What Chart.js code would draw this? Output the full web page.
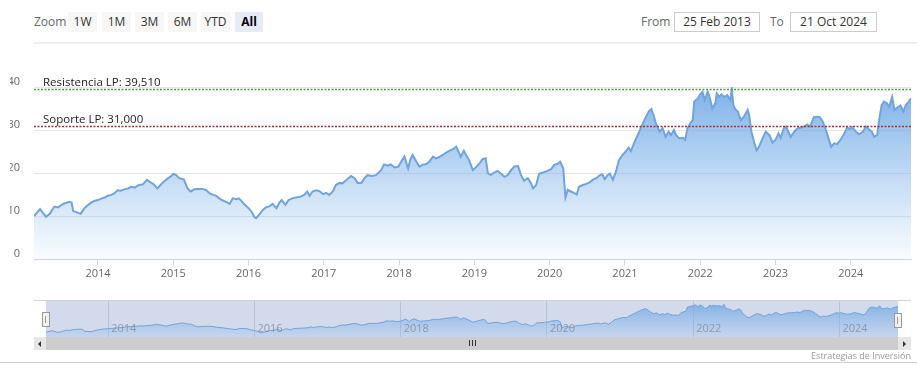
<!DOCTYPE html>
<html><head><meta charset="utf-8">
<script src="https://cdn.jsdelivr.net/npm/chart.js@4"></script>
<style>
html,body{margin:0;padding:0;background:#fff;width:917px;height:383px;overflow:hidden;font-family:"Open Sans",sans-serif;}
.a{position:absolute;}
.btn{position:absolute;top:12px;height:20px;background:#f7f7f7;color:#333;font-size:12px;line-height:20px;text-align:center;}
.lbl{position:absolute;top:12px;height:20px;line-height:20px;font-size:12px;color:#666;}
.inp{position:absolute;top:12px;height:18px;line-height:18px;border:1px solid #ccc;font-size:12px;color:#333;text-align:center;background:#fff;}
.handle{position:absolute;width:6px;height:13px;background:#f2f2f2;border:1px solid #999;}
.handle i{position:absolute;top:3px;width:1px;height:7px;background:#999;}
</style></head>
<body>
<div class="lbl" style="left:34px;">Zoom</div>
<div class="btn" style="left:68px;width:29px;">1W</div>
<div class="btn" style="left:102px;width:29px;">1M</div>
<div class="btn" style="left:135px;width:29px;">3M</div>
<div class="btn" style="left:168px;width:29px;">6M</div>
<div class="btn" style="left:201px;width:29px;">YTD</div>
<div class="btn" style="left:235px;width:28px;background:#e6ebf5;color:#000;font-weight:bold;">All</div>
<div class="lbl" style="left:641px;">From</div>
<div class="inp" style="left:674px;width:84px;">25 Feb 2013</div>
<div class="lbl" style="left:770px;">To</div>
<div class="inp" style="left:790px;width:85px;">21 Oct 2024</div>
<div class="a" style="left:33px;top:42px;width:884px;height:2px;background:#efefef;"></div>

<canvas id="main" class="a" style="left:0;top:50px;" width="917" height="240"></canvas>

<div class="a" style="left:34px;top:300px;width:877px;height:1px;background:#cfd3da;"></div>
<canvas id="nav" class="a" style="left:46px;top:301px;" width="852" height="36"></canvas>
<div class="handle" style="left:42px;top:312px;"><i style="left:2px"></i><i style="left:3px;background:#f2f2f2"></i></div>
<div class="handle" style="left:894px;top:313px;"><i style="left:2px"></i><i style="left:3px;background:#f2f2f2"></i></div>

<div class="a" style="left:34px;top:337px;width:877px;height:13px;background:#f2f2f2;"></div>
<div class="a" style="left:46px;top:337px;width:852px;height:13px;background:#cdcdcd;"></div>
<div class="a" style="left:34px;top:337px;width:12px;height:13px;background:#e6e6e6;"></div>
<div class="a" style="left:898px;top:337px;width:13px;height:13px;background:#e6e6e6;"></div>
<div class="a" style="left:38px;top:341px;width:0;height:0;border-top:3px solid transparent;border-bottom:3px solid transparent;border-right:3px solid #333;"></div>
<div class="a" style="left:903px;top:341px;width:0;height:0;border-top:3px solid transparent;border-bottom:3px solid transparent;border-left:3px solid #333;"></div>
<div class="a" style="left:469px;top:340px;width:1px;height:6px;background:#333;"></div>
<div class="a" style="left:472px;top:340px;width:1px;height:6px;background:#333;"></div>
<div class="a" style="left:475px;top:340px;width:1px;height:6px;background:#333;"></div>

<div class="a" style="left:0;top:362px;width:917px;height:1px;background:#cfcfcf;"></div>
<div class="a" style="right:6px;top:350px;font-size:9px;line-height:12px;color:#999;">Estrategias de Inversión</div>

<script>
// Decimal-year dates
const dates = [
2013.15,2013.23,2013.31,2013.36,2013.42,2013.47,2013.51,2013.55,2013.62,2013.65,
2013.67,2013.71,2013.77,2013.82,2013.87,2013.91,2013.95,2014.00,2014.05,2014.09,
2014.13,2014.18,2014.22,2014.26,2014.30,2014.35,2014.40,2014.44,2014.49,2014.53,
2014.60,2014.65,2014.70,2014.74,2014.79,2014.83,2014.88,2014.93,2014.96,2015.00,
2015.04,2015.08,2015.14,2015.19,2015.23,2015.28,2015.33,2015.39,2015.44,2015.48,
2015.53,2015.57,2015.61,2015.66,2015.70,2015.75,2015.79,2015.84,2015.87,2015.90,
2015.95,2015.99,2016.04,2016.08,2016.10,2016.15,2016.19,2016.23,2016.28,2016.32,
2016.37,2016.41,2016.44,2016.49,2016.53,2016.58,2016.63,2016.69,2016.74,2016.78,
2016.81,2016.85,2016.90,2016.94,2016.99,2017.03,2017.07,2017.12,2017.16,2017.21,
2017.25,2017.30,2017.36,2017.41,2017.45,2017.50,2017.54,2017.58,2017.64,2017.69,
2017.76,2017.80,2017.85,2017.89,2017.94,2017.99,2018.04,2018.07,2018.12,2018.15,
2018.18,2018.23,2018.27,2018.31,2018.36,2018.40,2018.45,2018.49,2018.53,2018.58,
2018.62,2018.67,2018.71,2018.76,2018.79,2018.82,2018.86,2018.89,2018.93,2018.98,
2019.02,2019.07,2019.11,2019.15,2019.18,2019.22,2019.26,2019.31,2019.35,2019.40,
2019.44,2019.49,2019.53,2019.58,2019.62,2019.66,2019.71,2019.75,2019.78,2019.82,
2019.86,2019.91,2019.97,2020.02,2020.06,2020.10,2020.14,2020.18,2020.21,2020.24,
2020.28,2020.33,2020.36,2020.39,2020.44,2020.48,2020.53,2020.57,2020.62,2020.66,
2020.70,2020.73,2020.77,2020.80,2020.84,2020.88,2020.92,2020.97,2021.01,2021.05,
2021.08,2021.12,2021.15,2021.19,2021.24,2021.28,2021.32,2021.35,2021.38,2021.41,
2021.46,2021.50,2021.54,2021.58,2021.61,2021.65,2021.68,2021.72,2021.77,2021.80,
2021.83,2021.87,2021.90,2021.92,2021.97,2022.00,2022.03,2022.06,2022.10,2022.13,
2022.16,2022.20,2022.22,2022.25,2022.28,2022.32,2022.36,2022.40,2022.42,2022.44,
2022.47,2022.50,2022.54,2022.58,2022.63,2022.65,2022.68,2022.72,2022.75,2022.78,
2022.83,2022.87,2022.92,2022.96,2023.00,2023.04,2023.07,2023.11,2023.14,2023.17,
2023.20,2023.25,2023.29,2023.34,2023.38,2023.42,2023.46,2023.51,2023.55,2023.59,
2023.63,2023.67,2023.71,2023.74,2023.78,2023.82,2023.87,2023.91,2023.95,2023.99,
2024.02,2024.07,2024.11,2024.16,2024.20,2024.24,2024.28,2024.31,2024.35,2024.38,
2024.41,2024.44,2024.48,2024.51,2024.55,2024.58,2024.62,2024.66,2024.70,2024.73,
2024.77,2024.80];
const prices = [
10.0,11.6,9.8,10.5,12.2,12.0,12.5,12.9,13.3,13.1,
11.2,10.9,10.5,11.8,12.6,13.1,13.5,13.7,14.1,14.3,
14.7,14.9,15.3,16.0,15.9,16.2,16.4,16.8,16.6,17.1,
17.4,18.4,17.8,17.4,16.4,17.2,18.1,18.8,19.1,19.8,
19.5,18.8,18.5,16.4,15.7,16.2,16.3,16.3,16.0,15.3,
14.9,14.7,14.1,13.6,13.3,12.8,14.1,13.9,14.1,13.6,
12.6,12.0,11.0,9.7,9.5,10.5,11.4,12.0,12.3,12.8,
11.8,13.1,13.7,12.6,13.7,14.1,14.3,14.5,14.9,15.7,
14.7,15.7,16.0,15.8,15.1,15.4,14.9,15.7,17.2,17.7,
17.6,18.4,19.3,18.8,17.7,17.7,18.8,19.5,19.3,19.5,
20.6,22.0,21.7,22.0,21.3,21.5,23.0,23.8,21.1,23.2,
24.2,22.6,21.5,21.9,22.1,22.6,23.8,23.4,23.7,24.2,
24.7,25.2,25.5,26.1,24.9,23.8,25.2,24.2,23.0,20.7,
21.3,22.3,23.2,23.4,19.9,19.5,20.1,20.5,19.9,19.1,
19.5,20.7,21.5,21.6,19.5,18.2,18.8,17.7,16.4,17.2,
19.8,20.1,20.5,20.9,21.9,22.1,22.6,21.1,14.3,16.1,
15.7,15.3,15.0,16.8,17.2,17.4,17.8,18.4,18.8,19.4,
19.7,18.6,19.5,19.9,18.4,20.3,23.0,24.2,25.0,25.9,
25.1,26.9,28.1,29.6,31.6,33.1,34.4,34.9,33.5,31.6,
29.6,30.4,28.4,29.6,28.8,30.0,28.8,28.1,28.2,27.7,
30.4,31.6,32.3,36.6,37.4,38.3,38.9,37.0,38.9,37.4,
35.0,36.2,38.5,37.7,38.3,37.7,38.1,37.0,39.5,35.8,
34.7,34.3,32.3,33.1,34.7,33.5,29.6,26.9,25.3,26.1,
28.1,29.6,28.8,27.1,27.7,29.2,28.2,30.4,30.8,29.6,
28.4,29.6,30.4,30.6,30.8,31.3,30.8,33.0,33.1,33.0,
31.9,30.0,27.7,26.1,26.9,26.7,27.9,29.0,30.6,30.2,
30.6,29.6,29.0,29.6,30.8,30.2,29.6,28.4,28.8,32.7,
35.8,36.6,36.2,35.4,37.7,34.7,35.2,35.7,34.3,35.8,
36.6,37.4];
const yearTicks = [2014,2015,2016,2017,2018,2019,2020,2021,2022,2023,2024];
const navYearTicks = [2014,2016,2018,2020,2022,2024];
const yTicks = [0,10,20,30,40];
const levelValues = [39.51, 31.0];
const levelLabels = ['Resistencia LP: 39,510', 'Soporte LP: 31,000'];
const levelColors = ['#4b9a48', '#8e3b3b'];

const FONT = '"Open Sans", sans-serif';
const points = dates.map((d, i) => ({x: d, y: prices[i]}));

function areaGradient(c, top, bottom) {
  const a = c.chart.chartArea;
  if (!a) return 'rgba(124,181,236,0.5)';
  const g = c.chart.ctx.createLinearGradient(0, a.top, 0, a.bottom);
  g.addColorStop(0, top);
  g.addColorStop(1, bottom);
  return g;
}

const levelPlugin = {
  id: 'levels',
  afterDatasetsDraw(chart) {
    const {ctx, chartArea: a, scales: {y}} = chart;
    levelValues.forEach((v, i) => {
      const py = Math.round(y.getPixelForValue(v)) + 0.5;
      ctx.save();
      ctx.strokeStyle = levelColors[i];
      ctx.lineWidth = 1.5;
      ctx.setLineDash([2, 1.5]);
      ctx.beginPath();
      ctx.moveTo(a.left, py);
      ctx.lineTo(a.right, py);
      ctx.stroke();
      ctx.setLineDash([]);
      ctx.fillStyle = '#222';
      ctx.font = '11.5px ' + FONT;
      ctx.textBaseline = 'alphabetic';
      ctx.fillText(levelLabels[i], a.left + 9, py - 3.5);
      ctx.restore();
    });
  }
};

new Chart(document.getElementById('main'), {
  type: 'line',
  data: {datasets: [{
    data: points,
    borderColor: '#72a3d9',
    borderWidth: 2,
    pointRadius: 0,
    tension: 0,
    fill: 'origin',
    backgroundColor: c => areaGradient(c, 'rgba(112,168,230,0.9)', 'rgba(124,181,236,0.04)')
  }]},
  options: {
    responsive: false, animation: false,
    layout: {padding: {left: 10, right: 6, top: 37, bottom: 0}},
    plugins: {legend: {display: false}, tooltip: {enabled: false}},
    scales: {
      x: {
        type: 'linear', min: dates[0], max: dates[dates.length - 1],
        afterBuildTicks: s => { s.ticks = yearTicks.map(v => ({value: v})); },
        afterFit: s => { s.height = 31; },
        ticks: {callback: v => String(v), font: {size: 11, family: FONT}, color: '#666', padding: 2, maxRotation: 0, autoSkip: false},
        grid: {drawOnChartArea: false, drawTicks: true, tickLength: 6, color: '#ccd6eb'},
        border: {display: true, color: '#ccd6eb'}
      },
      y: {
        min: 0, max: 40,
        afterBuildTicks: s => { s.ticks = yTicks.map(v => ({value: v})); },
        afterFit: s => { s.width = 24; },
        ticks: {font: {size: 11, family: FONT}, color: '#666', padding: 14, labelOffset: -5},
        grid: {color: '#e6e6e6', drawTicks: false},
        border: {display: false}
      }
    }
  },
  plugins: [levelPlugin]
});

const navPlugin = {
  id: 'navdeco',
  beforeDraw(chart) {
    const {ctx, width, height} = chart;
    ctx.save();
    ctx.fillStyle = '#d2daec';
    ctx.fillRect(0, 0, width, height);
    ctx.restore();
  },
  afterDatasetsDraw(chart) {
    const {ctx, scales: {x}} = chart;
    ctx.save();
    ctx.fillStyle = 'rgba(120,130,150,0.7)';
    ctx.font = '11px ' + FONT;
    ctx.textBaseline = 'middle';
    navYearTicks.forEach(v => {
      ctx.fillText(String(v), x.getPixelForValue(v) + 3, 28);
    });
    ctx.restore();
  }
};

new Chart(document.getElementById('nav'), {
  type: 'line',
  data: {datasets: [{
    data: points,
    borderColor: '#72a3d9',
    borderWidth: 1,
    pointRadius: 0,
    tension: 0,
    fill: 'origin',
    backgroundColor: c => areaGradient(c, 'rgba(112,165,228,0.85)', 'rgba(124,181,236,0.15)')
  }]},
  options: {
    responsive: false, animation: false,
    layout: {padding: 0},
    plugins: {legend: {display: false}, tooltip: {enabled: false}},
    scales: {
      x: {
        type: 'linear', min: dates[0], max: dates[dates.length - 1],
        afterBuildTicks: s => { s.ticks = navYearTicks.map(v => ({value: v})); },
        afterFit: s => { s.height = 0; },
        ticks: {display: false},
        grid: {drawTicks: false, color: '#b9c3d6'},
        border: {display: false}
      },
      y: {display: false, min: 5, max: 43}
    }
  },
  plugins: [navPlugin]
});
</script>
</body></html>
